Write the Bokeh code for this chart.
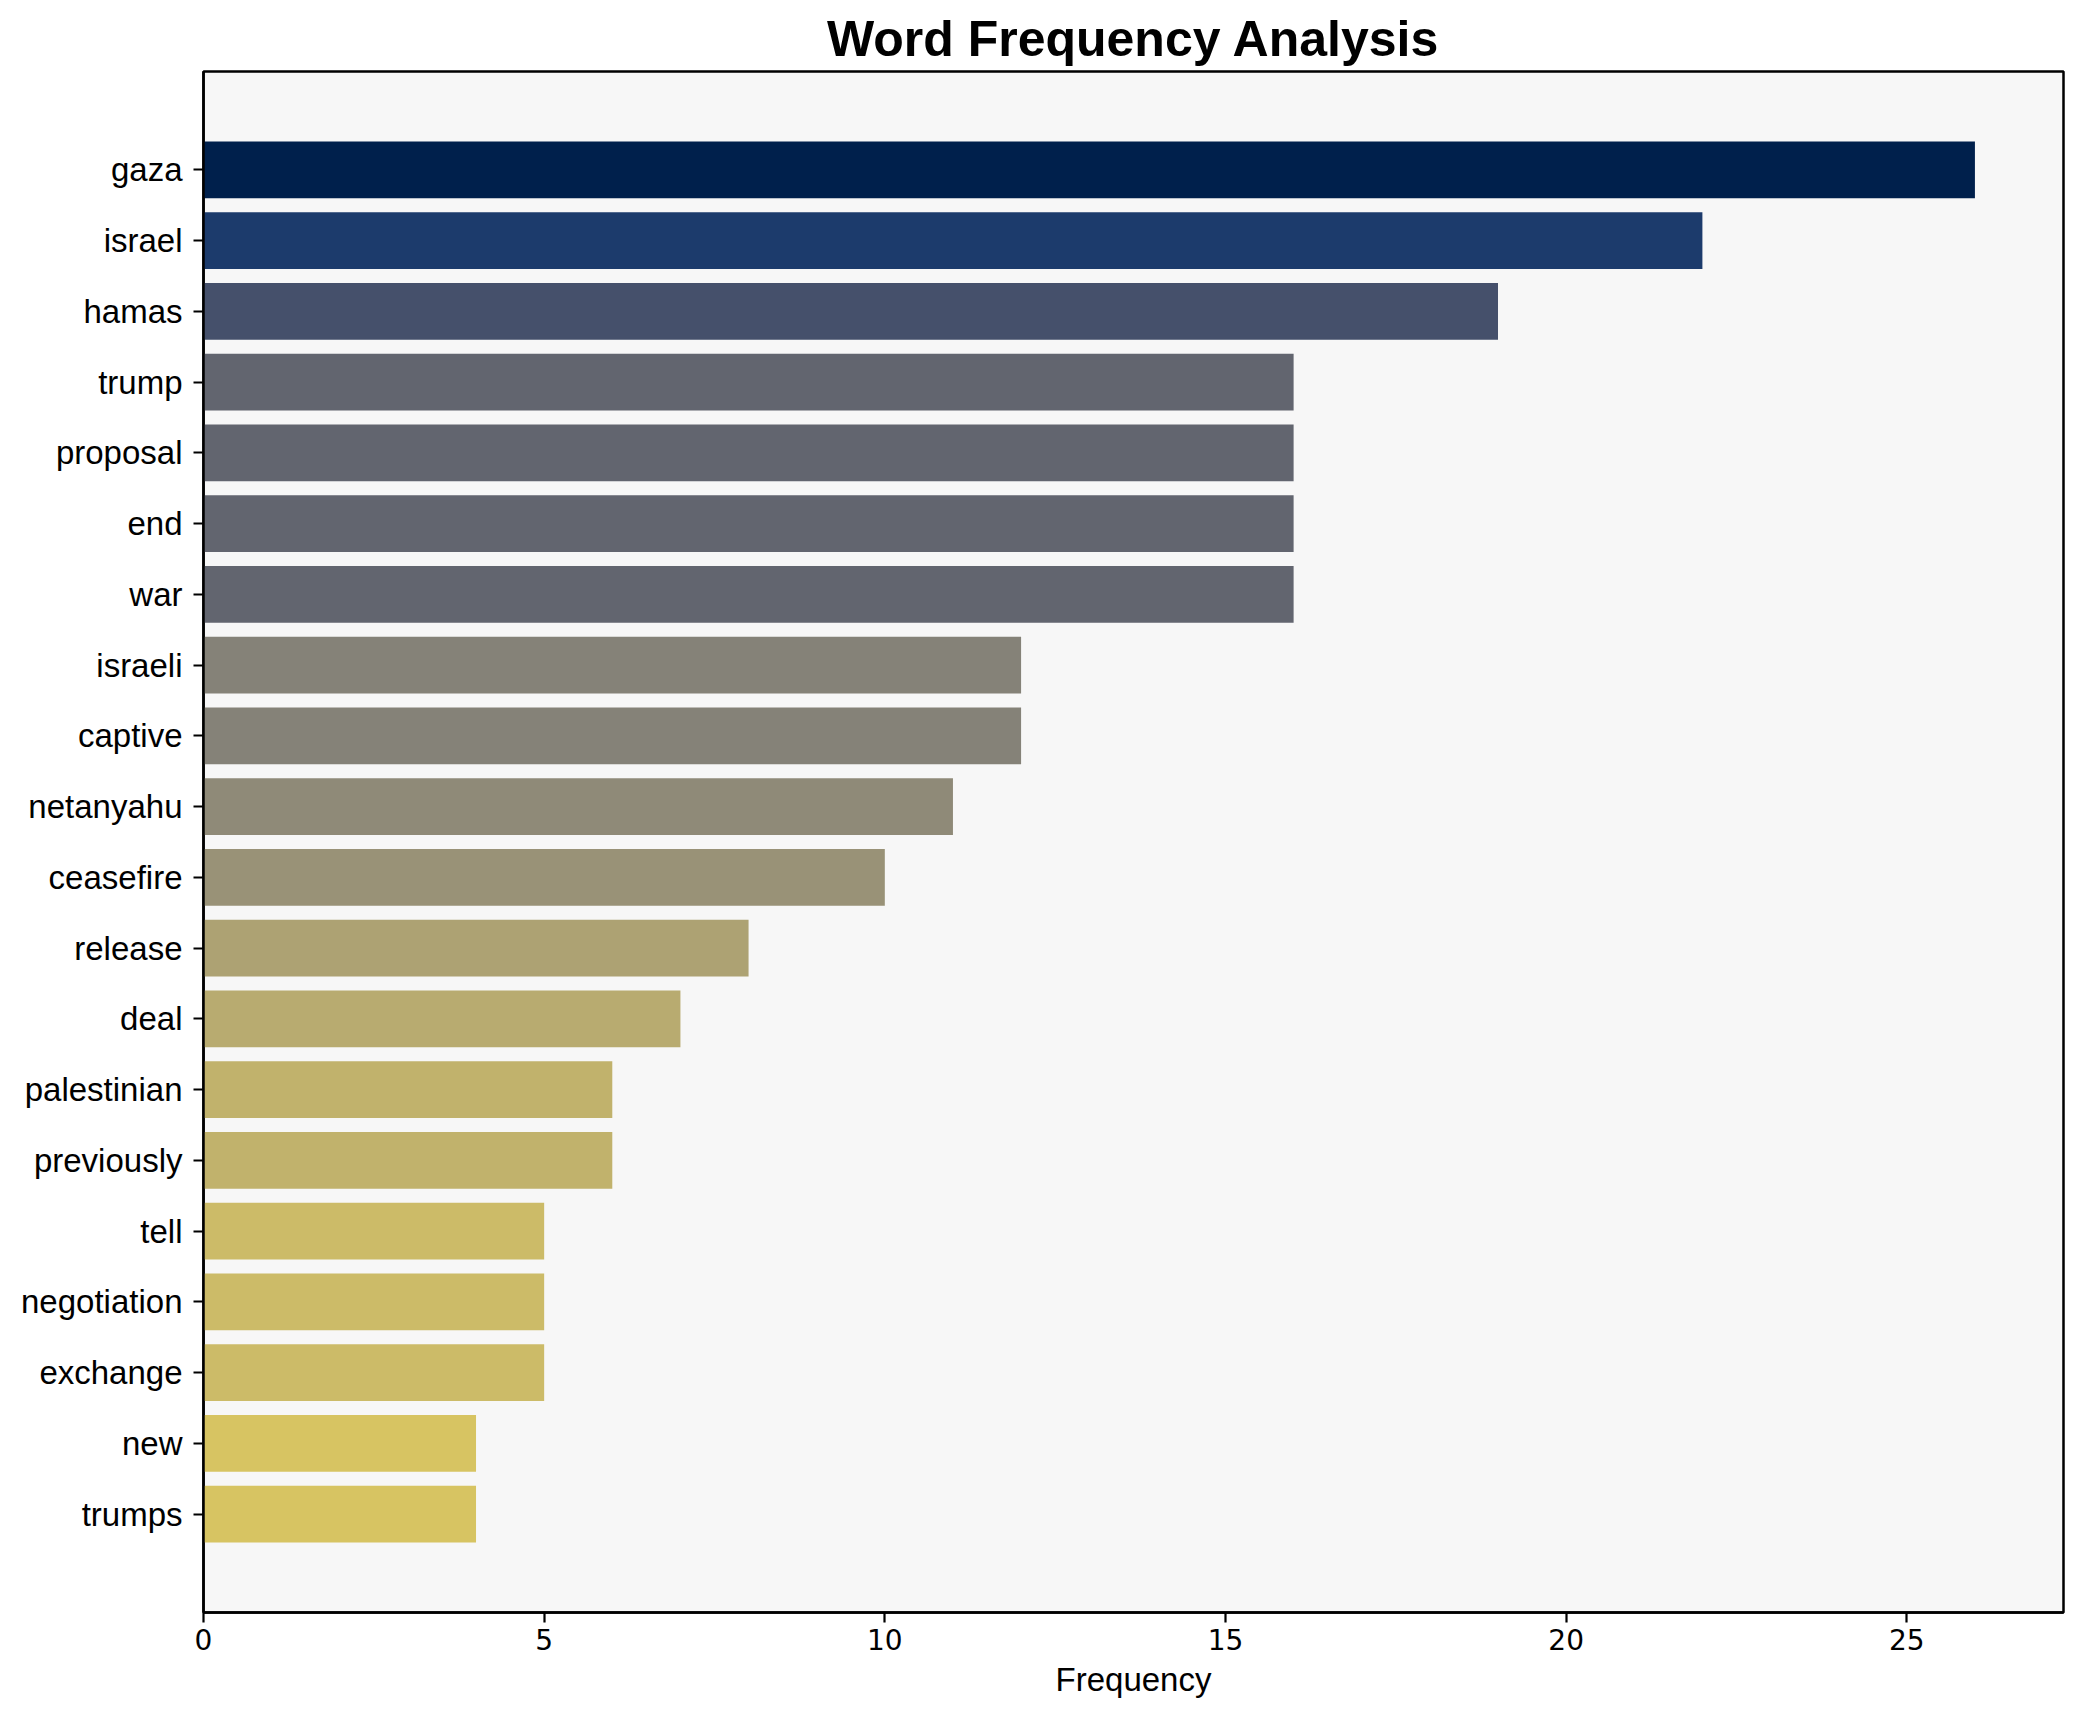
from bokeh.plotting import figure
from bokeh.models import Range1d, FixedTicker, ColumnDataSource
from bokeh.palettes import Cividis256
from bokeh.embed import file_html
from bokeh.resources import INLINE

words = ["gaza", "israel", "hamas", "trump", "proposal", "end", "war", "israeli",
         "captive", "netanyahu", "ceasefire", "release", "deal", "palestinian",
         "previously", "tell", "negotiation", "exchange", "new", "trumps"]
counts = [26, 22, 19, 16, 16, 16, 16, 12, 12, 11, 10, 8, 7, 6, 6, 5, 5, 5, 4, 4]
x_ticks = [0, 5, 10, 15, 20, 25]

n = len(words)
ypos = list(range(n))
vmax = max(counts)
colors = [Cividis256[min(255, int((1 - c / vmax) * 256))] for c in counts]

src = ColumnDataSource(dict(y=ypos, count=counts, color=colors, word=words))

pad = 0.4 + 0.05 * (n - 1 + 0.8)
p = figure(width=2074, height=1714, output_backend="svg", toolbar_location=None,
           x_range=Range1d(0, vmax * 1.05),
           y_range=Range1d(n - 1 + pad, -pad),
           min_border_left=203, min_border_right=11,
           min_border_top=71, min_border_bottom=102)

p.hbar(y="y", left=0, right="count", height=0.8, fill_color="color",
       line_color=None, source=src)

p.background_fill_color = "#f7f7f7"
p.border_fill_color = "white"
p.outline_line_color = "black"
p.outline_line_width = 2.5
p.grid.visible = False

p.title.text = "Word Frequency Analysis"
p.title.align = "center"
p.title.text_font = "Liberation Sans"
p.title.text_font_size = "50px"
p.title.text_font_style = "bold"
p.title.text_color = "black"

xa = p.xaxis[0]
xa.ticker = FixedTicker(ticks=x_ticks)
xa.axis_label = "Frequency"
xa.axis_label_text_font = "Liberation Sans"
xa.axis_label_text_font_size = "33px"
xa.axis_label_text_font_style = "normal"
xa.axis_label_text_color = "black"
xa.axis_label_standoff = 8
xa.major_label_text_font = "DejaVu Sans"
xa.major_label_text_font_size = "28px"
xa.major_label_text_color = "black"
xa.major_label_standoff = 6

ya = p.yaxis[0]
ya.ticker = FixedTicker(ticks=ypos)
ya.major_label_overrides = {i: w for i, w in zip(ypos, words)}
ya.major_label_text_font = "Liberation Sans"
ya.major_label_text_font_size = "33px"
ya.major_label_text_color = "black"
ya.major_label_standoff = 11

for ax in (xa, ya):
    ax.axis_line_color = "black"
    ax.axis_line_width = 2.5
    ax.major_tick_in = 0
    ax.major_tick_out = 10
    ax.major_tick_line_width = 2.2
    ax.major_tick_line_color = "black"
    ax.minor_tick_line_color = None

open("out.html", "w").write(file_html(p, INLINE))
